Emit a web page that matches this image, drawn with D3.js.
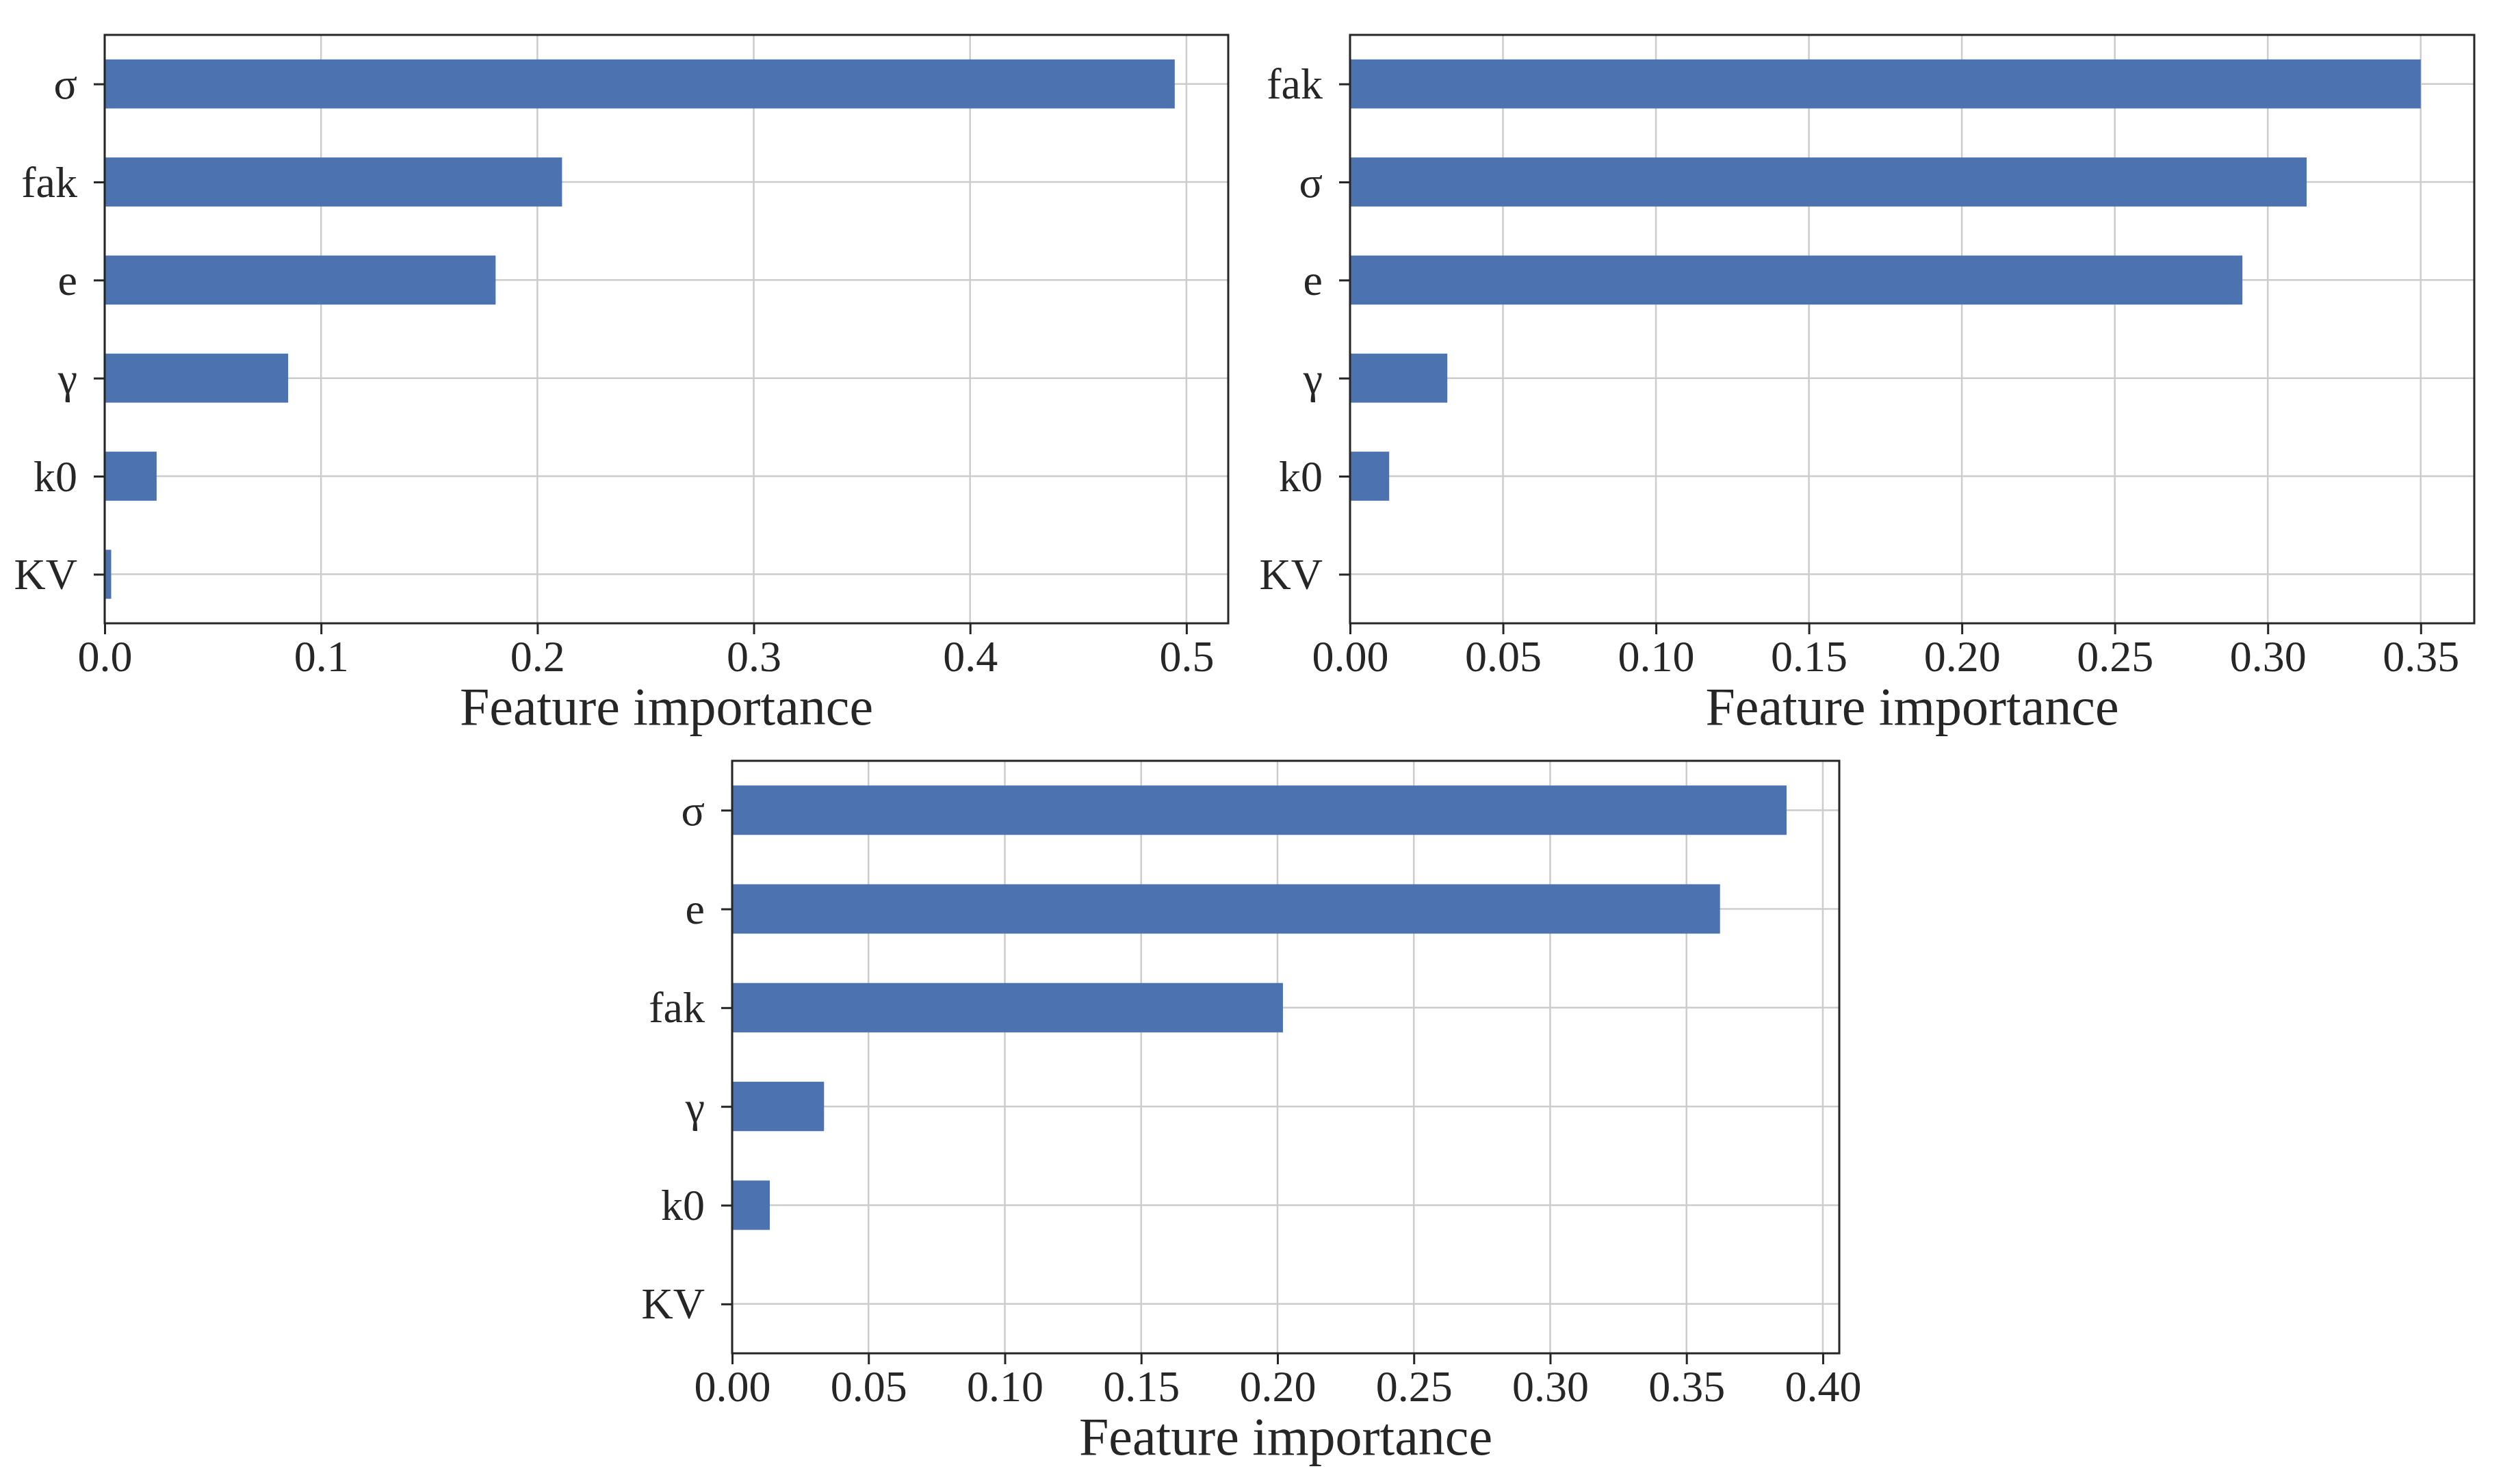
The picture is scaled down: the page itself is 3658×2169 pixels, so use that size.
<!DOCTYPE html>
<html>
<head>
<meta charset="utf-8">
<script src="https://cdn.jsdelivr.net/npm/d3@7"></script>
<style>
  body { margin: 0; background: #fff; }
  svg { display: block; }
</style>
</head>
<body>
<div id="chart"></div>
<script>
// feature importances (top to bottom order)
const featuresA = ["σ", "fak", "e", "γ", "k0", "KV"];
const valuesA = [0.4946, 0.2114, 0.1807, 0.0848, 0.0240, 0.0030];

const featuresB = ["fak", "σ", "e", "γ", "k0", "KV"];
const valuesB = [0.3500, 0.3127, 0.2917, 0.0318, 0.0128, 0.0];

const featuresC = ["σ", "e", "fak", "γ", "k0", "KV"];
const valuesC = [0.3867, 0.3623, 0.2020, 0.0337, 0.0138, 0.0];

const ticksA = [0, 0.1, 0.2, 0.3, 0.4, 0.5];
const ticksB = [0, 0.05, 0.10, 0.15, 0.20, 0.25, 0.30, 0.35];
const ticksC = [0, 0.05, 0.10, 0.15, 0.20, 0.25, 0.30, 0.35, 0.40];

const xLabel = "Feature importance";

const W = 3658, H = 2169;
const font = "'Liberation Serif', 'Times New Roman', serif";
const barColor = "#4c72b0";
const gridColor = "#cccccc";
const ink = "#262626";

const svg = d3.select("#chart")
  .append("svg")
  .attr("width", W)
  .attr("height", H);

const panels = [
  { feats: featuresA, vals: valuesA, ticks: ticksA, fmt: ".1f", left: 153, right: 1795, top: 51, bottom: 911 },
  { feats: featuresB, vals: valuesB, ticks: ticksB, fmt: ".2f", left: 1973, right: 3616, top: 51, bottom: 911 },
  { feats: featuresC, vals: valuesC, ticks: ticksC, fmt: ".2f", left: 1070, right: 2688, top: 1112, bottom: 1978 }
];

panels.forEach(p => {
  const w = p.right - p.left, h = p.bottom - p.top;
  const g = svg.append("g").attr("transform", `translate(${p.left},${p.top})`);

  // matplotlib-style 5% margin past the largest bar
  const x = d3.scaleLinear().domain([0, d3.max(p.vals) * 1.05]).range([0, w]);
  const y = d3.scalePoint().domain(p.feats).range([0, h]).padding(0.5);
  const bw = y.step() * 0.5;

  // grid
  g.append("g").selectAll("line.vx")
    .data(p.ticks)
    .enter().append("line")
    .attr("x1", d => x(d)).attr("x2", d => x(d))
    .attr("y1", 0).attr("y2", h)
    .attr("stroke", gridColor).attr("stroke-width", 2.5);

  g.append("g").selectAll("line.hy")
    .data(p.feats)
    .enter().append("line")
    .attr("x1", 0).attr("x2", w)
    .attr("y1", d => y(d)).attr("y2", d => y(d))
    .attr("stroke", gridColor).attr("stroke-width", 2.5);

  // bars
  g.append("g").selectAll("rect")
    .data(p.feats.map((f, i) => ({ f, v: p.vals[i] })))
    .enter().append("rect")
    .attr("x", x(0))
    .attr("y", d => y(d.f) - bw / 2)
    .attr("width", d => x(d.v) - x(0))
    .attr("height", bw)
    .attr("fill", barColor);

  // axes
  const xAxis = g.append("g")
    .attr("transform", `translate(0,${h})`)
    .call(d3.axisBottom(x).tickValues(p.ticks).tickFormat(d3.format(p.fmt)).tickSize(16).tickSizeOuter(0));

  const yAxis = g.append("g")
    .call(d3.axisLeft(y).tickSize(16).tickSizeOuter(0));

  [xAxis, yAxis].forEach(a => {
    a.select(".domain").remove();
    a.selectAll(".tick line").attr("stroke", ink).attr("stroke-width", 3);
    a.selectAll(".tick text")
      .attr("fill", ink)
      .style("font-family", font)
      .style("font-size", "64px");
  });
  xAxis.selectAll(".tick text").attr("y", 70).attr("dy", 0);
  yAxis.selectAll(".tick text").attr("x", -40).attr("dy", "0.33em");

  // frame
  g.append("rect")
    .attr("x", 0).attr("y", 0)
    .attr("width", w).attr("height", h)
    .attr("fill", "none")
    .attr("stroke", ink)
    .attr("stroke-width", 3);

  g.append("text")
    .attr("x", w / 2)
    .attr("y", h + 148)
    .attr("text-anchor", "middle")
    .attr("fill", ink)
    .style("font-family", font)
    .style("font-size", "78px")
    .text(xLabel);
});
</script>
</body>
</html>
